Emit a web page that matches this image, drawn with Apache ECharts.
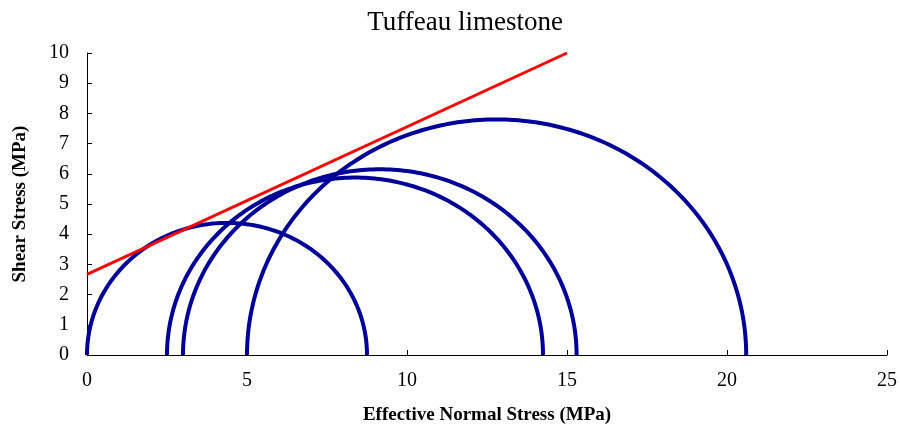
<!DOCTYPE html>
<html>
<head>
<meta charset="utf-8">
<script src="https://cdn.jsdelivr.net/npm/echarts@6/dist/echarts.min.js"></script>
<style>
  html, body { margin: 0; padding: 0; background: #ffffff; }
  #chart { width: 900px; height: 428px; }
</style>
</head>
<body>
<div id="chart"></div>
<script>
// Mohr circles for Tuffeau limestone: each test gives sigma3 (minor) and sigma1 (major) effective stress, MPa
const sigma3 = [0, 2.5, 3.0, 5.0];
const sigma1 = [8.75, 14.25, 15.3, 20.6];

// Failure envelope (Mohr-Coulomb line) end points: normal stress and shear stress, MPa
const envelopeSigma = [0, 15.0];
const envelopeTau = [2.67, 10.0];

const xTicks = [0, 5, 10, 15, 20, 25];
const yTicks = [0, 1, 2, 3, 4, 5, 6, 7, 8, 9, 10];

const circleData = sigma3.map((s3, i) => [s3, sigma1[i]]);
const envelopeData = envelopeSigma.map((s, i) => [s, envelopeTau[i]]);

const serif = '"Liberation Serif", "Times New Roman", serif';

// Draws the upper half of a Mohr circle through the axis scales
function renderSemicircle(params, api) {
  const s3 = api.value(0);
  const s1 = api.value(1);
  const c = (s1 + s3) / 2;
  const r = (s1 - s3) / 2;
  const pts = [];
  const steps = 180;
  for (let k = 0; k <= steps; k++) {
    const t = Math.PI * k / steps;
    pts.push(api.coord([c - r * Math.cos(t), r * Math.sin(t)]));
  }
  return {
    type: 'polyline',
    shape: { points: pts },
    style: { fill: null, stroke: '#000099', lineWidth: 4 }
  };
}

const chart = echarts.init(document.getElementById('chart'), null, { renderer: 'canvas' });
chart.setOption({
  backgroundColor: '#ffffff',
  animation: false,
  title: {
    text: 'Tuffeau limestone',
    left: 460,
    textAlign: 'center',
    top: 4,
    textStyle: { fontFamily: serif, fontSize: 27, fontWeight: 'normal', color: '#000' }
  },
  grid: { left: 87, right: 13, top: 53, bottom: 73, containLabel: false, outerBoundsMode: 'none' },
  xAxis: {
    type: 'value',
    min: xTicks[0],
    max: xTicks[xTicks.length - 1],
    interval: 5,
    name: 'Effective Normal Stress (MPa)',
    nameLocation: 'middle',
    nameGap: 51,
    nameTextStyle: { fontFamily: serif, fontSize: 19, fontWeight: 'bold', color: '#000' },
    axisLine: { show: true, onZero: false, lineStyle: { color: '#000', width: 1 } },
    axisTick: { show: true, inside: true, length: 5, lineStyle: { color: '#000' } },
    axisLabel: { fontFamily: serif, fontSize: 20, color: '#000', margin: 16 },
    splitLine: { show: false }
  },
  yAxis: {
    type: 'value',
    min: yTicks[0],
    max: yTicks[yTicks.length - 1],
    interval: 1,
    name: 'Shear Stress (MPa)',
    nameLocation: 'middle',
    nameGap: 57,
    nameTextStyle: { fontFamily: serif, fontSize: 19, fontWeight: 'bold', color: '#000' },
    axisLine: { show: true, lineStyle: { color: '#000', width: 1 } },
    axisTick: { show: true, inside: true, length: 5, lineStyle: { color: '#000' } },
    axisLabel: { fontFamily: serif, fontSize: 20, color: '#000', margin: 18 },
    splitLine: { show: false }
  },
  series: [
    {
      name: 'Mohr circles',
      type: 'custom',
      renderItem: renderSemicircle,
      encode: { x: [0, 1] },
      data: circleData,
      z: 2
    },
    {
      name: 'Failure envelope',
      type: 'line',
      data: envelopeData,
      showSymbol: false,
      symbol: 'none',
      lineStyle: { color: '#ff0000', width: 3 },
      z: 3
    }
  ]
});
</script>
</body>
</html>
